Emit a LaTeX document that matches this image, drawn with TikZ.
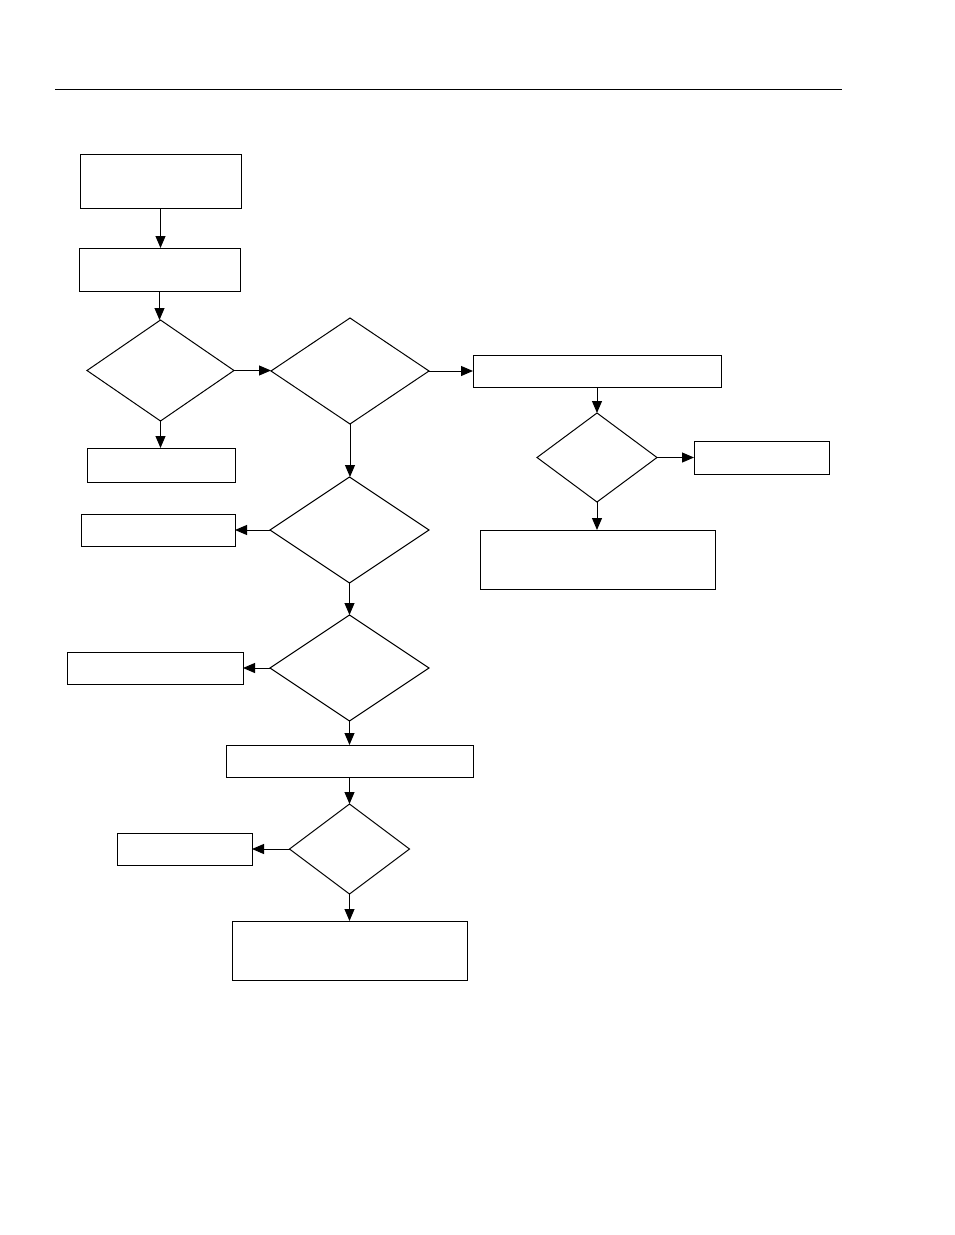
\documentclass[tikz,border=0pt]{standalone}
\usetikzlibrary{shapes.geometric,arrows.meta}
\begin{document}
\begin{tikzpicture}[x=1pt,y=-1pt,
  box/.style={draw,line width=1pt,inner sep=0pt,outer sep=0pt,rectangle},
  dec/.style={draw,line width=1pt,inner sep=0pt,outer sep=0pt,diamond},
  arr/.style={line width=1pt,-{Triangle[width=10pt,length=12pt]}}]
\useasboundingbox (0,0) rectangle (954,1235);
\coordinate (r1) at (55,89);
\coordinate (r2) at (842,89);
\draw[line width=1pt] (r1) -- (r2);
\node[box,minimum width=161pt,minimum height=54pt] (A) at (160.5,181) {};
\node[box,minimum width=161pt,minimum height=43pt] (B) at (159.5,269.5) {};
\node[dec,minimum width=147pt,minimum height=101pt] (D1) at (160.5,370.5) {};
\node[box,minimum width=148pt,minimum height=34pt] (C) at (161,465) {};
\node[dec,minimum width=158pt,minimum height=106pt] (D2) at (350,371) {};
\node[box,minimum width=248pt,minimum height=32pt] (E) at (597,371) {};
\node[dec,minimum width=120pt,minimum height=89pt] (D3) at (597,457.5) {};
\node[box,minimum width=135pt,minimum height=33pt] (F) at (761.5,457.5) {};
\node[box,minimum width=235pt,minimum height=59pt] (G) at (597.5,559.5) {};
\node[dec,minimum width=159pt,minimum height=106pt] (D4) at (349.5,530) {};
\node[box,minimum width=154pt,minimum height=32pt] (H) at (158,530) {};
\node[dec,minimum width=159pt,minimum height=106pt] (D5) at (349.5,668) {};
\node[box,minimum width=176pt,minimum height=32pt] (I) at (155,668) {};
\node[box,minimum width=247pt,minimum height=32pt] (J) at (349.5,761) {};
\node[dec,minimum width=120pt,minimum height=90pt] (D6) at (349.5,849) {};
\node[box,minimum width=135pt,minimum height=32pt] (K) at (184.5,849) {};
\node[box,minimum width=235pt,minimum height=59pt] (L) at (349.5,950.5) {};
\draw[arr] (A.south) -- (A.south |- B.north);
\draw[arr] (B.south) -- (B.south |- D1.north);
\draw[arr] (D1.south) -- (D1.south |- C.north);
\draw[arr] (D1.east) -- (D1.east -| D2.west);
\draw[arr] (D2.east) -- (D2.east -| E.west);
\draw[arr] (E.south) -- (E.south |- D3.north);
\draw[arr] (D3.east) -- (D3.east -| F.west);
\draw[arr] (D3.south) -- (D3.south |- G.north);
\draw[arr] (D2.south) -- (D2.south |- D4.north);
\draw[arr] (D4.west) -- (D4.west -| H.east);
\draw[arr] (D4.south) -- (D4.south |- D5.north);
\draw[arr] (D5.west) -- (D5.west -| I.east);
\draw[arr] (D5.south) -- (D5.south |- J.north);
\draw[arr] (J.south) -- (J.south |- D6.north);
\draw[arr] (D6.west) -- (D6.west -| K.east);
\draw[arr] (D6.south) -- (D6.south |- L.north);
\end{tikzpicture}
\end{document}
